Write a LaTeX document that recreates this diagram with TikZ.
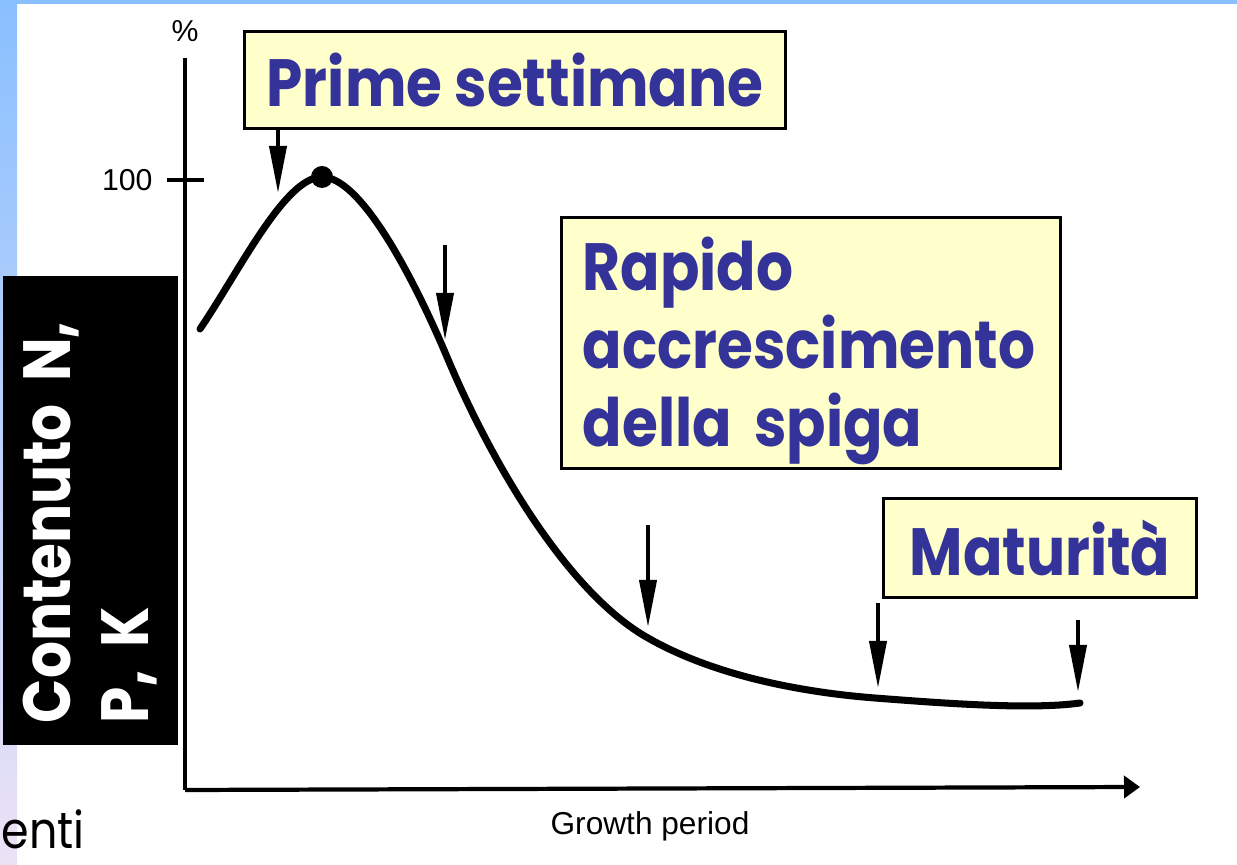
\documentclass[tikz,border=0pt]{standalone}
\usepackage{fontspec}
\setmainfont{Poppins}[FakeStretch=0.87]
\newfontfamily\scanfont{Liberation Sans}
\usetikzlibrary{arrows.meta, positioning}
\definecolor{bandblue}{RGB}{137,192,255}
\definecolor{bandlav}{RGB}{236,226,246}
\definecolor{notefill}{RGB}{255,255,204}
\definecolor{notetext}{RGB}{51,51,153}

\begin{document}
\begin{tikzpicture}[x=0.01cm, y=-0.01cm,
    notebox/.style={rectangle, draw=black, line width=0.85pt, fill=notefill,
        text=notetext, font=\fontsize{19}{22.2}\selectfont\bfseries},
    stagearrow/.style={line width=1.1pt, -{Triangle[length=0.47cm, width=0.17cm]}},
    scanlabel/.style={font=\scanfont\fontsize{8.6}{10}\selectfont}]
  \useasboundingbox (0,0) rectangle (1237,865);
  % Page and slide border
  \fill[white] (0,0) rectangle (1237,865);
  \fill[bandblue] (0,0) rectangle (1237,4);
  \shade[top color=bandblue, bottom color=bandlav] (0,0) rectangle (17,865);

  % Axes
  \coordinate (origin) at (185,790);
  \coordinate (ytop) at (185,58);
  \coordinate (xend) at (1140,787);
  \draw[line width=1.2pt] (ytop) -- (origin);
  \draw[line width=1.2pt, -{Triangle[length=0.16cm, width=0.22cm]}] (origin) -- (xend);
  \node[scanlabel] (pct) at (185,31) {\%};
  \coordinate (tickl) at (167,180);
  \coordinate (tickr) at (204,180);
  \draw[line width=1.2pt] (tickl) -- (tickr);
  \node[scanlabel, anchor=east] (hundred) at (165,180) {100};
  \node[scanlabel, font=\scanfont\fontsize{9}{11}\selectfont] (xlabel) at (650,826) {Growth period};

  % Nutrient content curve
  \draw[line width=2pt, line cap=round]
    (200,329) .. controls (240,270) and (285,177) .. (322,177)
              .. controls (364,177) and (420,293) .. (447,357)
              .. controls (492,464) and (568,593) .. (648,638)
              .. controls (718,678) and (810,693) .. (875,698)
              .. controls (940,703) and (1030,710) .. (1080,703);
  \fill (322,177) circle (11);

  % Stage labels
  \node[notebox, minimum width=5.4cm, minimum height=0.96cm] (prime) at (515,80) {Prime settimane};
  \node[notebox, minimum width=4.98cm, minimum height=2.5cm, text width=4.56cm,
        inner ysep=0pt, align=left] (rapido) at (811,343)
    {\rule{0pt}{0.70cm}Rapido\\accrescimento\\della spiga};
  \node[notebox, minimum width=3.12cm, minimum height=0.98cm] (matur) at (1040,548) {Maturità};

  % Stage arrows
  \coordinate (s1) at (278,128);  \coordinate (t1) at (278,193);
  \coordinate (s2) at (445,245);  \coordinate (t2) at (445,340);
  \coordinate (s3) at (648,525);  \coordinate (t3) at (648,627);
  \coordinate (s4) at (878,603);  \coordinate (t4) at (878,688);
  \coordinate (s5) at (1078,620); \coordinate (t5) at (1078,692);
  \draw[stagearrow] (s1) -- (t1);
  \draw[stagearrow] (s2) -- (t2);
  \draw[stagearrow] (s3) -- (t3);
  \draw[stagearrow] (s4) -- (t4);
  \draw[stagearrow] (s5) -- (t5);

  % Vertical axis caption
  \node[rotate=90, fill=black, text=white, minimum width=4.69cm, minimum height=1.75cm,
        text width=4.25cm, align=left, inner sep=0pt,
        font=\fontsize{19}{22.2}\selectfont\bfseries]
    (ycaption) at (90.5,510.5) {Contenuto N,\\P, K};

  % Cut-off slide text
  \node[anchor=base west, inner sep=0pt, font=\fontsize{14.5}{18}\selectfont] (cut) at (1,848) {enti};
\end{tikzpicture}
\end{document}
